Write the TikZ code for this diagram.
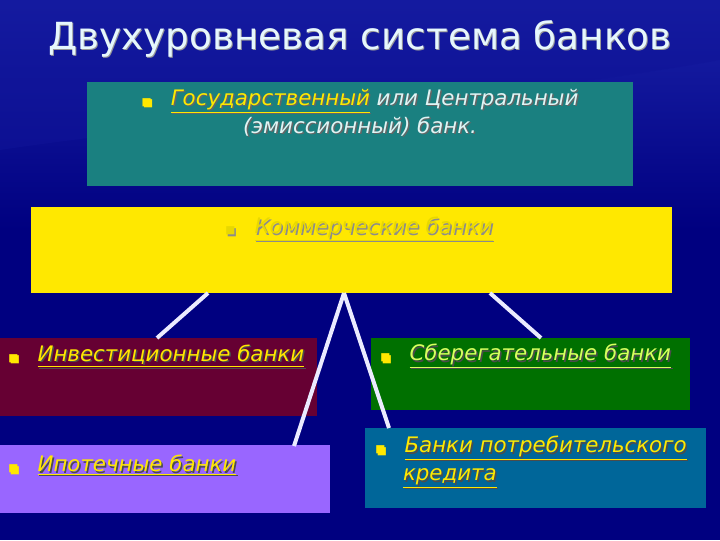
\documentclass[tikz,border=0pt]{standalone}
\usepackage{fontspec}
\setmainfont{DejaVu Sans}
\usetikzlibrary{positioning}
\definecolor{bgtop}{HTML}{1A22A8}
\definecolor{bgbot}{HTML}{000080}
\definecolor{teal1}{HTML}{1A8080}
\definecolor{yel}{HTML}{FFE800}
\definecolor{ytxt}{HTML}{E8D800}
\definecolor{maroon1}{HTML}{660033}
\definecolor{green1}{HTML}{007000}
\definecolor{violet1}{HTML}{9966FF}
\definecolor{blue1}{HTML}{006699}
\definecolor{lighttxt}{HTML}{E0F4F4}
\definecolor{savtxt}{HTML}{D8FF60}
\definecolor{bullety}{HTML}{FFE800}
\newcommand{\bul}{{\fontsize{8}{8}\selectfont\textcolor{bullety}{■}}\hspace{0.9em}}
\begin{document}
\begin{tikzpicture}[x=0.75pt,y=-0.75pt,
  box/.style={anchor=north west,inner sep=0pt,draw=none},
  txt/.style={anchor=west,inner sep=0pt,font=\fontsize{16}{21}\selectfont\itshape,align=left},
  shad/.style={text=black!70},
  conn/.style={draw=white!92!blue,line width=3pt}]
\useasboundingbox (0,0) rectangle (720,540);
\shade[top color=bgtop,bottom color=bgbot] (0,0) rectangle (720,230);
\fill[bgbot] (0,229) rectangle (720,540);
\fill[bgtop!60!bgbot,opacity=0.5] (0,150) .. controls (200,120) and (500,100) .. (720,60) -- (720,0) -- (0,0) -- cycle;
% title
\node[font=\fontsize{28}{30}\selectfont,text=black!40,anchor=center] at (361,40) {Двухуровневая система банков};
\node (title) [font=\fontsize{28}{30}\selectfont,text=white!90!cyan,anchor=center] at (360,39) {Двухуровневая система банков};
% boxes
\fill[teal1] (87,82) rectangle (633,186);
\node (cb) [box,minimum width=546*0.75pt,minimum height=104*0.75pt] at (87,82) {};
\fill[yel] (31,207) rectangle (672,293);
\node (kb) [box,minimum width=641*0.75pt,minimum height=86*0.75pt] at (31,207) {};
\fill[maroon1] (0,338) rectangle (317,416);
\node (inv) [box,minimum width=317*0.75pt,minimum height=78*0.75pt] at (0,338) {};
\fill[green1] (371,338) rectangle (690,410);
\node (sav) [box,minimum width=319*0.75pt,minimum height=72*0.75pt] at (371,338) {};
\fill[violet1] (0,445) rectangle (330,513);
\node (ipo) [box,minimum width=330*0.75pt,minimum height=68*0.75pt] at (0,445) {};
\fill[blue1] (365,428) rectangle (706,508);
\node (cons) [box,minimum width=341*0.75pt,minimum height=80*0.75pt] at (365,428) {};
% connectors
\coordinate (k1) at (208,293); \coordinate (i1) at (157,338);
\coordinate (k2) at (344,293); \coordinate (p1) at (294,446);
\coordinate (c1) at (389,428);
\coordinate (k3) at (490,293); \coordinate (s1) at (541,338);
\draw[conn] (k1) -- (i1);
\draw[conn] (k2) -- (p1);
\draw[conn] (k2) -- (c1);
\draw[conn] (k3) -- (s1);
% texts
\node[txt,anchor=north,align=center,text=black!60] at (361.5,90.5) {\bul\underline{Государственный} или Центральный\\(эмиссионный) банк.};
\node (t0) [txt,anchor=north,align=center,text=lighttxt] at (360,89) {\bul\textcolor{yel}{\underline{Государственный}} или Центральный\\(эмиссионный) банк.};
\node[txt,text=black!45] at (226.5,230.5) {{\fontsize{8}{8}\selectfont■}\hspace{0.9em}\underline{Коммерческие банки}};
\node (t1) [txt,text=ytxt] at (225,229) {{\fontsize{8}{8}\selectfont■}\hspace{0.9em}\underline{Коммерческие банки}};
\node[txt,shad] at (9.5,357.5) {\bul\underline{Инвестиционные банки}};
\node (t2) [txt,text=yel] at (8,356) {\bul\underline{Инвестиционные банки}};
\node[txt,shad] at (381.5,357.5) {\bul\underline{Сберегательные банки}};
\node (t3) [txt,text=savtxt] at (380,356) {\bul\underline{Сберегательные банки}};
\node[txt,shad] at (9.5,466.5) {\bul\underline{Ипотечные банки}};
\node (t4) [txt,text=yel] at (8,465) {\bul\underline{Ипотечные банки}};
\node[txt,shad,anchor=north west] at (376.5,437.5) {\bul\underline{Банки потребительского}\\\hspace{1.3em}\underline{кредита}};
\node (t5) [txt,text=yel,anchor=north west] at (375,436) {\bul\underline{Банки потребительского}\\\hspace{1.3em}\underline{кредита}};
\end{tikzpicture}
\end{document}
